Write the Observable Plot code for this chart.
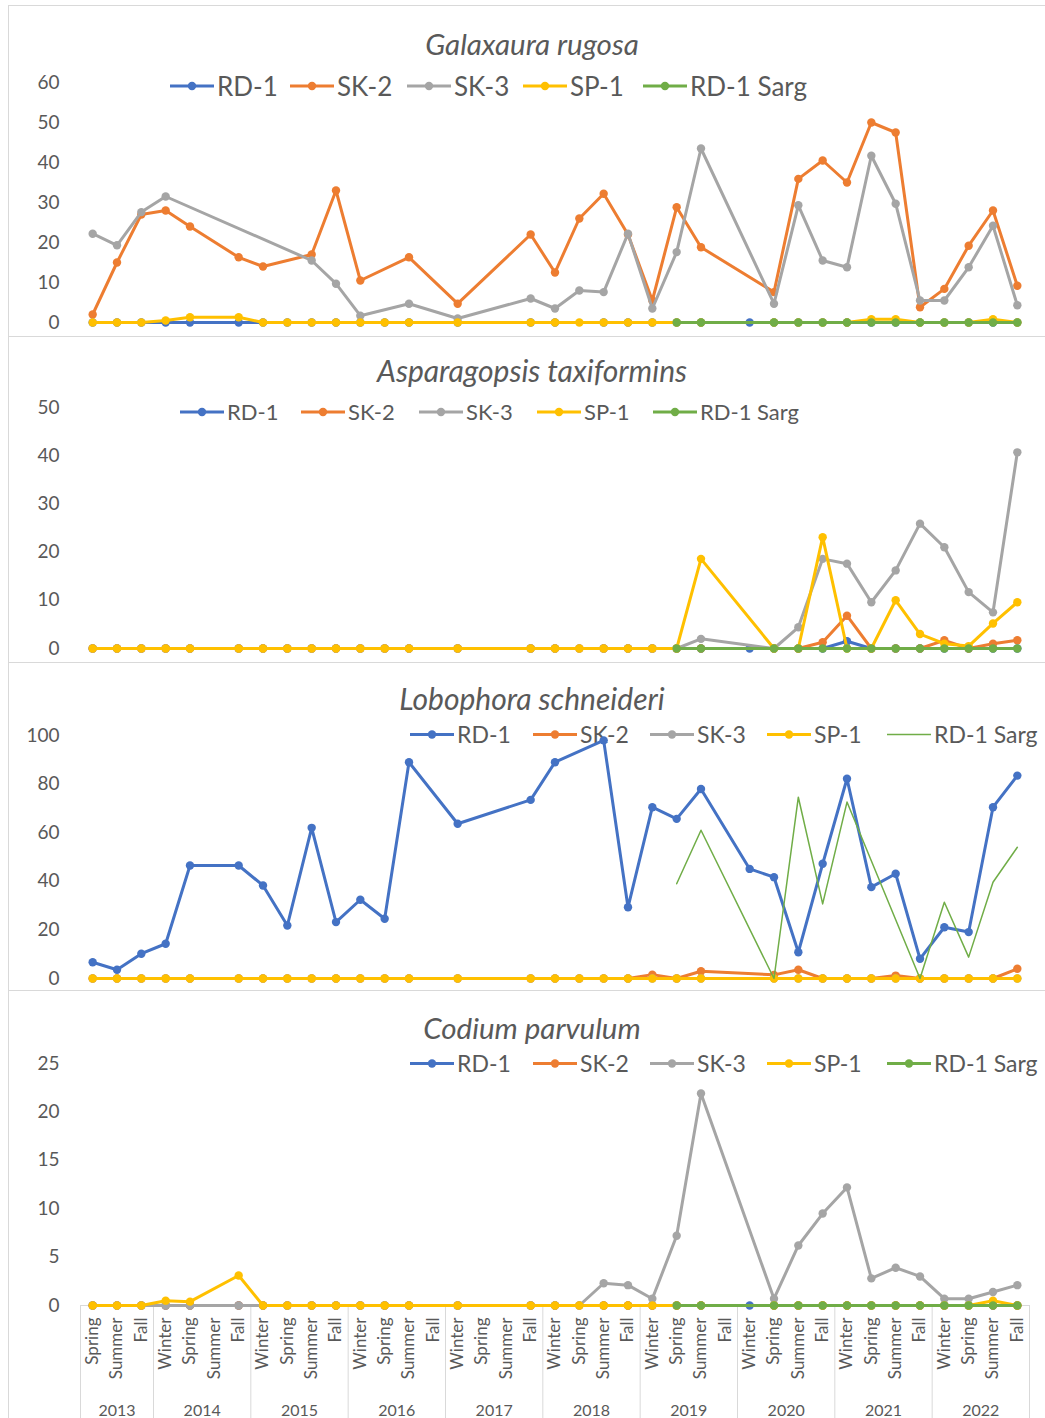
<!DOCTYPE html>
<html>
<head>
<meta charset="utf-8">
<script src="https://cdn.jsdelivr.net/npm/d3@7"></script>
<script src="https://cdn.jsdelivr.net/npm/@observablehq/plot@0.6"></script>
<style>
html,body{margin:0;padding:0;background:#fff;}
body{font-family:Lato,"Open Sans",sans-serif;}
#root{position:relative;width:1045px;height:1418px;overflow:hidden;background:#fff;}
.panel{position:absolute;left:0;width:1045px;}
.title{position:absolute;left:532px;transform:translate(-50%,-50%);font-style:italic;color:#595959;white-space:nowrap;line-height:1;z-index:0;}
.leg{position:absolute;display:flex;align-items:center;transform:translateY(-50%);color:#595959;white-space:nowrap;line-height:1;z-index:0;}
.leg svg{margin-right:3px;}
.hline{position:absolute;left:8px;width:1037px;height:0;border-top:1px solid #d9d9d9;}
.vline{position:absolute;left:8px;top:5px;height:1413px;width:0;border-left:1px solid #d9d9d9;}
</style>
</head>
<body>
<div id="root"></div>
<script>
const N = null;
// Category axis
const seasons = ["Spring","Summer","Fall",
  "Winter","Spring","Summer","Fall",
  "Winter","Spring","Summer","Fall",
  "Winter","Spring","Summer","Fall",
  "Winter","Spring","Summer","Fall",
  "Winter","Spring","Summer","Fall",
  "Winter","Spring","Summer","Fall",
  "Winter","Spring","Summer","Fall",
  "Winter","Spring","Summer","Fall",
  "Winter","Spring","Summer","Fall"];
const years = ["2013","2014","2015","2016","2017","2018","2019","2020","2021","2022"];
const sites = ["RD-1","SK-2","SK-3","SP-1","RD-1 Sarg"];
const siteColors = ["#4472C4","#ED7D31","#A5A5A5","#FFC000","#70AD47"];

// Galaxaura rugosa
const galRD1  = [0,0,0, 0,0,N,0, 0,0,0,0, 0,0,0,N, 0,N,N,0, 0,N,0,0, 0,0,0,N, 0,0,0,0, 0,0,0,0, 0,0,0,0];
const galSK2  = [2,15,27, 28,24,N,16.3, 14,N,17,33, 10.5,N,16.3,N, 4.7,N,N,22, 12.5,26,32.2,22, 5.5,28.8,18.8,N, N,7.6,35.9,40.5, 35,50,47.5,3.8, 8.4,19.2,28,9.2];
const galSK3  = [22.2,19.3,27.6, 31.5,N,N,N, N,N,15.5,9.7, 1.7,N,4.7,N, 1,N,N,6, 3.5,8,7.6,22.2, 3.5,17.6,43.5,N, N,4.7,29.3,15.5, 13.8,41.7,29.7,5.5, 5.5,13.8,24.2,4.3];
const galSP1  = [0,0,0, 0.5,1.3,N,1.3, 0,0,0,0, 0,0,0,N, 0,N,N,0, 0,0,0,0, 0,0,0,N, N,0,0,0, 0,0.8,0.8,0, 0,0,0.8,0];
const galSarg = [N,N,N, N,N,N,N, N,N,N,N, N,N,N,N, N,N,N,N, N,N,N,N, N,0,0,N, N,0,0,0, 0,0,0,0, 0,0,0,0];

// Asparagopsis taxiformins
const aspRD1  = [0,0,0, 0,0,N,0, 0,0,0,0, 0,0,0,N, 0,N,N,0, 0,N,0,0, 0,0,0,N, 0,0,0,0, 1.5,0,0,0, 0,0,0,0];
const aspSK2  = [0,0,0, 0,0,N,0, 0,0,0,0, 0,0,0,N, 0,N,N,0, 0,0,0,0, 0,0,0,N, N,0,0,1.3, 6.8,0,0,0, 1.7,0,1,1.7];
const aspSK3  = [0,0,0, 0,0,N,0, 0,0,0,0, 0,0,0,N, 0,N,N,0, 0,0,0,0, 0,0,2,N, N,0,4.4,18.6, 17.6,9.6,16.2,25.9, 21,11.7,7.5,40.7];
const aspSP1  = [0,0,0, 0,0,N,0, 0,0,0,0, 0,0,0,N, 0,N,N,0, 0,0,0,0, 0,0,18.6,N, N,0,0,23.1, 0,0,10,3, 1,0.5,5.2,9.6];
const aspSarg = [N,N,N, N,N,N,N, N,N,N,N, N,N,N,N, N,N,N,N, N,N,N,N, N,0,0,N, N,0,0,0, 0,0,0,0, 0,0,0,0];

// Lobophora schneideri
const lobRD1  = [6.7,3.6,10.2, 14.3,46.5,N,46.5, 38.3,21.8,62,23.2, 32.4,24.6,89,N, 63.7,N,N,73.5, 89,N,98,29.3, 70.5,65.7,78,N, 45.1,41.7,10.8,47.2, 82.2,37.6,43.1,8.1, 21.1,19.1,70.5,83.5];
const lobSK2  = [0,0,0, 0,0,N,0, 0,0,0,0, 0,0,0,N, 0,N,N,0, 0,0,0,0, 1.6,0,3,N, N,1.5,3.6,0, 0,0,1.2,0, 0,0,0,4];
const lobSK3  = [0,0,0, 0,0,N,0, 0,0,0,0, 0,0,0,N, 0,N,N,0, 0,0,0,0, 0,0,0,N, N,0,0,0, 0,0,0,0, 0,0,0,0];
const lobSP1  = [0,0,0, 0,0,N,0, 0,0,0,0, 0,0,0,N, 0,N,N,0, 0,0,0,0, 0,0,0,N, N,0,0,0, 0,0,0,0, 0,0,0,0];
const lobSarg = [N,N,N, N,N,N,N, N,N,N,N, N,N,N,N, N,N,N,N, N,N,N,N, N,39,61,N, N,0,74.6,30.7, 72.6,N,N,0, 31.4,8.8,39.6,54];

// Codium parvulum
const codRD1  = [0,0,0, 0,0,N,0, 0,0,0,0, 0,0,0,N, 0,N,N,0, 0,N,0,0, 0,0,0,N, 0,0,0,0, 0,0,0,0, 0,0,0,0];
const codSK2  = [0,0,0, 0,0,N,0, 0,0,0,0, 0,0,0,N, 0,N,N,0, 0,0,0,0, 0,0,0,N, N,0,0,0, 0,0,0,0, 0,0,0,0];
const codSK3  = [0,0,0, 0,0,N,0, 0,0,0,0, 0,0,0,N, 0,N,N,0, 0,0,2.3,2.1, 0.7,7.2,21.9,N, N,0.7,6.2,9.5, 12.2,2.8,3.9,3, 0.7,0.7,1.4,2.1];
const codSP1  = [0,0,0, 0.5,0.4,N,3.1, 0,0,0,0, 0,0,0,N, 0,N,N,0, 0,0,0,0, 0,0,0,N, N,0,0,0, 0,0,0,0, 0,0,0.5,0];
const codSarg = [N,N,N, N,N,N,N, N,N,N,N, N,N,N,N, N,N,N,N, N,N,N,N, N,0,0,N, N,0,0,0, 0,0,0,0, 0,0,0,0];

// derived category grouping
const yearIndex = [];
seasons.forEach((s, i) => yearIndex.push(i === 0 ? 0 : yearIndex[i - 1] + (s === "Winter" ? 1 : 0)));
const catIdx = d3.range(seasons.length);
const yearCenters = years.map((_, k) => d3.mean(catIdx.filter(i => yearIndex[i] === k)));
const yearBounds = [-0.5, ...catIdx.filter(i => i > 0 && yearIndex[i] !== yearIndex[i - 1]).map(i => i - 0.5), seasons.length - 0.5];

const root = document.getElementById("root");

function swatch(color, thin, marker) {
  const ns = "http://www.w3.org/2000/svg";
  const s = document.createElementNS(ns, "svg");
  s.setAttribute("width", 44); s.setAttribute("height", 14);
  const l = document.createElementNS(ns, "line");
  l.setAttribute("x1", 0); l.setAttribute("x2", 44); l.setAttribute("y1", 7); l.setAttribute("y2", 7);
  l.setAttribute("stroke", color); l.setAttribute("stroke-width", thin ? 1.5 : 3);
  s.appendChild(l);
  if (marker) {
    const c = document.createElementNS(ns, "circle");
    c.setAttribute("cx", 22); c.setAttribute("cy", 7); c.setAttribute("r", thin ? 3 : 4.2);
    c.setAttribute("fill", color);
    s.appendChild(c);
  }
  return s;
}

function drawPanel(cfg) {
  const div = document.createElement("div");
  div.className = "panel";
  div.style.top = cfg.top + "px";
  div.style.height = cfg.height + "px";
  root.appendChild(div);

  const t = document.createElement("div");
  t.className = "title";
  t.textContent = cfg.title;
  t.style.top = cfg.titleY + "px";
  t.style.fontSize = cfg.titleSize + "px";
  div.appendChild(t);

  cfg.legendX.forEach((x, k) => {
    const it = document.createElement("div");
    it.className = "leg";
    it.style.left = x + "px";
    it.style.top = cfg.legendY + "px";
    it.style.fontSize = cfg.legendSize + "px";
    const thin = cfg.thin[k];
    it.appendChild(swatch(siteColors[k], thin, !thin || cfg.bottom));
    const sp = document.createElement("span");
    sp.textContent = sites[k];
    it.appendChild(sp);
    div.appendChild(it);
  });

  const marks = [];
  if (cfg.bottom) {
    marks.push(Plot.ruleY([0], {stroke: "#d9d9d9"}));
    marks.push(Plot.axisX(yearBounds, {tickSize: 115, stroke: "#d9d9d9", tickFormat: () => "", label: null}));
    marks.push(Plot.axisX(catIdx, {tickFormat: i => seasons[i], tickRotate: -90, tickSize: 0, tickPadding: 12, fontSize: 17, label: null}));
    marks.push(Plot.axisX(yearCenters, {tickFormat: d => years[yearCenters.indexOf(d)], tickSize: 0, tickPadding: 99, fontSize: 16, label: null}));
  }
  marks.push(Plot.axisY(cfg.ticks, {tickSize: 0, tickPadding: 21, fontSize: 19, label: null}));
  cfg.series.forEach((vals, k) => {
    const data = vals.map((v, i) => ({i, v, site: sites[k]})).filter(d => d.v != null);
    const thin = cfg.thin[k];
    marks.push(Plot.line(data, {x: "i", y: "v", stroke: siteColors[k], strokeWidth: thin ? 1.5 : 3, strokeLinejoin: "round", strokeLinecap: "round"}));
    if (!thin) marks.push(Plot.dot(data, {x: "i", y: "v", fill: siteColors[k], r: 4.2}));
  });

  const svg = Plot.plot({
    width: 1045,
    height: cfg.height,
    marginLeft: 80,
    marginRight: 16,
    marginTop: cfg.mt,
    marginBottom: cfg.mb,
    x: {type: "linear", domain: [-0.5, seasons.length - 0.5], axis: cfg.bottom ? undefined : null, label: null},
    y: {domain: [0, cfg.max], label: null},
    style: {fontFamily: "Lato, 'Open Sans', sans-serif", color: "#595959", background: "transparent", overflow: "visible"},
    marks
  });
  svg.style.position = "absolute";
  svg.style.left = "0px";
  svg.style.top = "0px";
  svg.style.zIndex = 1;
  div.appendChild(svg);
}

drawPanel({
  top: 0, height: 336, mt: 82, mb: 14, max: 60, ticks: [0,10,20,30,40,50,60],
  title: "Galaxaura rugosa", titleY: 44, titleSize: 29.5,
  legendY: 86, legendSize: 26, legendX: [170, 290, 407, 523, 643],
  series: [galRD1, galSK2, galSK3, galSP1, galSarg], thin: [false,false,false,false,false]
});
drawPanel({
  top: 336, height: 326, mt: 71, mb: 14, max: 50, ticks: [0,10,20,30,40,50],
  title: "Asparagopsis taxiformins", titleY: 34, titleSize: 30,
  legendY: 76, legendSize: 22, legendX: [180, 301, 419, 537, 653],
  series: [aspRD1, aspSK2, aspSK3, aspSP1, aspSarg], thin: [false,false,false,false,false]
});
drawPanel({
  top: 662, height: 328, mt: 73, mb: 12, max: 100, ticks: [0,20,40,60,80,100],
  title: "Lobophora schneideri", titleY: 36, titleSize: 30,
  legendY: 72, legendSize: 23, legendX: [410, 533, 650, 767, 887],
  series: [lobRD1, lobSK2, lobSK3, lobSP1, lobSarg], thin: [false,false,false,false,true]
});
drawPanel({
  top: 990, height: 428, mt: 73, mb: 113, max: 25, ticks: [0,5,10,15,20,25],
  title: "Codium parvulum", titleY: 38, titleSize: 29.5,
  legendY: 73, legendSize: 23, legendX: [410, 533, 650, 767, 887],
  series: [codRD1, codSK2, codSK3, codSP1, codSarg], thin: [false,false,false,false,false], bottom: true
});

// chart borders
[5, 336, 662, 990].forEach(y => {
  const h = document.createElement("div");
  h.className = "hline"; h.style.top = y + "px"; root.appendChild(h);
});
const v = document.createElement("div"); v.className = "vline"; root.appendChild(v);
</script>
</body>
</html>
